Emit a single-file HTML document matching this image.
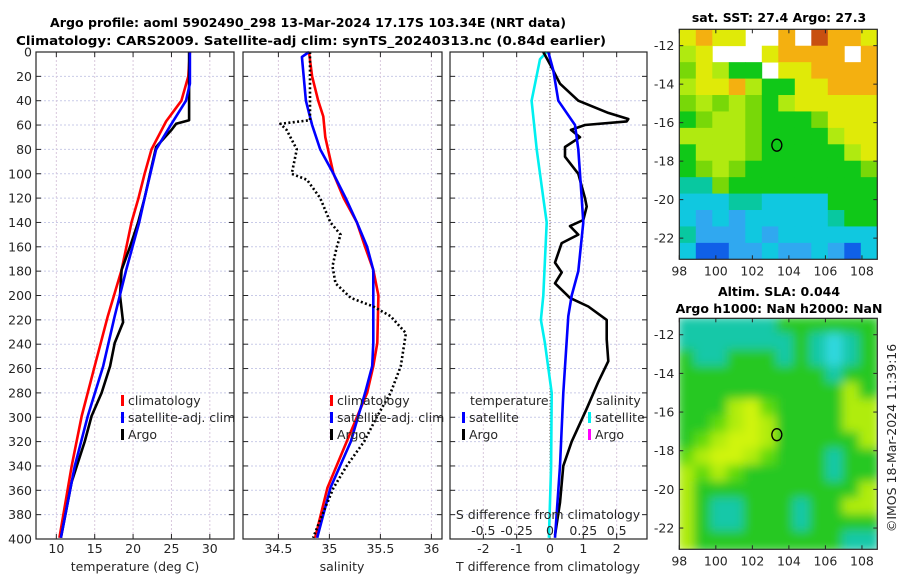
<!DOCTYPE html>
<html><head><meta charset="utf-8"><title>Argo profile</title>
<style>
html,body{margin:0;padding:0;background:#fff;}
svg{display:block;font-family:"DejaVu Sans","Liberation Sans",sans-serif;}
.tk{font-size:12.5px;fill:#262626;}
.tt{font-size:12.5px;font-weight:bold;fill:#000;}
</style></head>
<body>
<svg id="fig" width="900" height="580" viewBox="0 0 900 580" xmlns="http://www.w3.org/2000/svg">
<text class="tt" x="308" y="27" text-anchor="middle" textLength="516" lengthAdjust="spacingAndGlyphs">Argo profile: aoml 5902490_298 13-Mar-2024 17.17S 103.34E (NRT data)</text>
<text class="tt" x="311" y="45" text-anchor="middle" textLength="590" lengthAdjust="spacingAndGlyphs">Climatology: CARS2009. Satellite-adj clim: synTS_20240313.nc (0.84d earlier)</text>
<text class="tt" x="779" y="22" text-anchor="middle">sat. SST: 27.4 Argo: 27.3</text>
<text class="tt" x="779" y="296" text-anchor="middle">Altim. SLA: 0.044</text>
<text class="tt" x="779" y="313" text-anchor="middle">Argo h1000: NaN h2000: NaN</text>
<text class="tk" x="0" y="0" transform="translate(896,438) rotate(-90)" text-anchor="middle" font-size="13">©IMOS 18-Mar-2024 11:39:16</text>
</svg>
<script>
// ---- data ----
const depthTicks = [0,20,40,60,80,100,120,140,160,180,200,220,240,260,280,300,320,340,360,380,400];
const tempTicks = [10,15,20,25,30];
const salTicks = [34.5,35,35.5,36];
const tdiffTicks = [-2,-1,0,1,2];
const sdiffTicks = [-0.5,-0.25,0,0.25,0.5];
const sdiffTickLabels = ["-0.5","-0.25","0","0.25","0.5"];

const climTDepth = [0,20,40,57,80,100,120,140,179,217,258,299,340,399];
const climT = [27.4,27.2,26.3,24.3,22.4,21.5,20.7,19.8,18.5,16.7,15.0,13.3,12.0,10.4];
const satTDepth = [0,26,40,59,80,120,140,179,217,258,299,340,399];
const satT = [27.4,27.4,26.9,25.0,23.0,21.5,20.8,19.1,17.6,16.1,14.1,12.4,10.6];
const argoTDepth = [0,56,59,64,78,100,120,140,160,179,200,222,239,258,280,299,320,353,399];
const argoT = [27.3,27.3,25.6,25.0,23.0,22.2,21.5,20.65,19.6,18.5,18.3,18.7,17.6,17.0,15.9,14.6,13.7,12.0,10.6];

const climSDepth = [0,20,40,53,70,100,120,140,160,179,200,239,258,280,320,358,399];
const climS = [34.80,34.83,34.89,34.94,34.96,35.04,35.14,35.27,35.35,35.43,35.48,35.47,35.43,35.37,35.17,34.98,34.86];
const satSDepth = [0,4,40,60,80,100,120,140,160,179,200,222,239,258,280,320,358,399];
const satS = [34.80,34.73,34.77,34.83,34.91,35.04,35.16,35.27,35.37,35.43,35.43,35.43,35.43,35.42,35.35,35.21,35.01,34.88];
const argoSDepth = [0,40,56,59,64,80,100,105,120,140,150,161,176,190,202,209,217,231,258,280,299,320,340,358,380,399];
const argoS = [34.81,34.81,34.81,34.52,34.58,34.68,34.63,34.78,34.91,35.01,35.11,35.07,35.03,35.06,35.21,35.43,35.60,35.75,35.70,35.60,35.47,35.34,35.17,35.04,34.93,34.84];

const argoTdDepth = [0,10,26,40,50,55,57,60,64,70,78,86,100,120,127,138,143,150,157,173,181,190,202,209,220,236,254,271,293,320,340,370,397];
const argoTd = [-0.2,0,0.3,0.85,1.75,2.35,2.3,1.05,0.63,0.9,0.45,0.45,0.85,1.05,1.1,1.0,0.6,0.85,0.35,0.15,0.35,0.15,0.6,1.15,1.7,1.7,1.75,1.45,1.1,0.65,0.4,0.3,0.15];
const satTdDepth = [0,15,40,60,80,120,140,180,200,217,280,340,399];
const satTd = [-0.05,0.1,0.25,0.75,0.85,0.95,1.0,0.85,0.65,0.55,0.4,0.3,0.15];
const satSdDepth = [0,6,40,80,120,140,200,220,239,280,340,399];
const satSd = [-0.025,-0.075,-0.138,-0.1,-0.05,-0.025,-0.05,-0.068,-0.038,0.013,0.008,-0.008];

// SST map grid (rows north->south, 12 cols west->east); W = no data
const sstRows = [
"YOYYWWOWROOY",
"LYWWWYOOOOWO",
"gYLGGWYYOOOO",
"LYYOLGGYYOOO",
"gLgLgGLYYYYY",
"GgLLgGGGgYYY",
"LLLLgGGGGLYY",
"GLLLgGGGGGLY",
"GgLgGGGGGGGg",
"TTgGGGGGGGGG",
"CCCTTCCCCGGG",
"CbCbCCCCCTGG",
"TbbbCbCCCCCC",
"CBBbbCbbCbBC"];
const sstCodes = {B:25.3,b:25.7,C:26.0,T:26.3,G:26.7,g:27.0,L:27.2,Y:27.5,O:28.0,R:28.6};
// SLA map grid
const slaRows = [
"TTTTTTGGGGGG",
"TTTTTTTGTcTG",
"GTTGGGTGTcTG",
"GGGGGGGGGTGG",
"GGGGGGGGGGLG",
"GGGLYgGGGGLL",
"GGgLYLGGGGLL",
"GgLYYLGGGGGL",
"gLYYLgGGGTGG",
"LgLgGGGGGTGG",
"LGGGGGGGGGGL",
"LGTTGGGTGGLL",
"LGTTGGGTGGGG",
"LGGGGGGGGGTT"];
const slaCodes = {c:-0.1,T:-0.05,G:0.0,g:0.03,L:0.06,Y:0.1};
const mapLonTicks = [98,100,102,104,106,108];
const mapLatTicks = [-12,-14,-16,-18,-20,-22];
const argoLon = 103.34, argoLat = -17.17;

// ---- drawing ----
const NS="http://www.w3.org/2000/svg";
const svg=document.getElementById('fig');
function mk(tag,attrs,parent){const e=document.createElementNS(NS,tag);for(const k in attrs)e.setAttribute(k,attrs[k]);(parent||svg).appendChild(e);return e;}
const PY0=52, PY1=539;
const yD = d => PY0 + (d/400)*(PY1-PY0);
function lin(d0,d1,r0,r1){return v=>r0+(v-d0)/(d1-d0)*(r1-r0);}

const panels=[
 {name:'temperature-panel',x0:36,x1:234,dmin:7.35,dmax:33.15,ticks:tempTicks,labels:tempTicks.map(String),xlabel:'temperature (deg C)',xlc:135},
 {name:'salinity-panel',x0:243,x1:442,dmin:34.153,dmax:36.104,ticks:salTicks,labels:salTicks.map(String),xlabel:'salinity',xlc:342},
 {name:'difference-panel',x0:450,x1:647,dmin:-3.0,dmax:2.91,ticks:tdiffTicks,labels:tdiffTicks.map(String),xlabel:'T difference from climatology',xlc:548}
];
panels.forEach(p=>{p.sx=lin(p.dmin,p.dmax,p.x0,p.x1);});

function drawFrame(p,ylabels){
  const g=mk('g',{});
  
  
  mk('rect',{x:p.x0,y:PY0,width:p.x1-p.x0,height:PY1-PY0,fill:'#fff'},g);
  depthTicks.forEach(d=>{
    const y=yD(d);
    const l=mk('line',{x1:p.x0,x2:p.x1,y1:y,y2:y,stroke:'#c9cbe8','stroke-width':1,'stroke-dasharray':'2,2'},g);
    
    
    mk('line',{x1:p.x0,x2:p.x0+5,y1:y,y2:y,stroke:'#262626'},g);
    mk('line',{x1:p.x1-5,x2:p.x1,y1:y,y2:y,stroke:'#262626'},g);
    if(ylabels){
      const t=mk('text',{x:p.x0-4,y:y+4.5,'text-anchor':'end',class:'tk'},g);
      t.textContent=String(d);
      
      
    }
  });
  p.ticks.forEach((v,i)=>{
    const x=p.sx(v);
    mk('line',{x1:x,x2:x,y1:PY0,y2:PY1,stroke:'#d9c8dc','stroke-width':1,'stroke-dasharray':'2,2'},g);
    mk('line',{x1:x,x2:x,y1:PY1-5,y2:PY1,stroke:'#262626'},g);
    mk('line',{x1:x,x2:x,y1:PY0,y2:PY0+5,stroke:'#262626'},g);
    const t=mk('text',{x:x,y:553,'text-anchor':'middle',class:'tk'},g);
    t.textContent=p.labels[i];
    
    
  });
  const xl=mk('text',{x:p.xlc,y:571,'text-anchor':'middle',class:'tk'},g);
  xl.textContent=p.xlabel;
  
  
  return g;
}
function drawLine(p,depths,vals,color,name,dash,scale){
  const pts=depths.map((d,i)=>p.sx(vals[i]*(scale||1)).toFixed(1)+','+yD(d).toFixed(1)).join(' ');
  const a={points:pts,fill:'none',stroke:color,'stroke-width':2.6,'stroke-linejoin':'round'};
  if(dash)a['stroke-dasharray']=dash;
  const l=mk('polyline',a);
  
  
  return l;
}
function frameBorder(p){
  mk('rect',{x:p.x0,y:PY0,width:p.x1-p.x0,height:PY1-PY0,fill:'none',stroke:'#262626','stroke-width':1.2});
}
function legendEntry(x,y,color,label,name){
  const g=mk('g',{});
  
  
  if(color) mk('rect',{x:x,y:y-10,width:3,height:11,fill:color},g);
  const t=mk('text',{x:x+(color?7:0),y:y,class:'tk'},g);
  t.textContent=label;
}

// panel 1
drawFrame(panels[0],true);
drawLine(panels[0],climTDepth,climT,'#ff0000','climatology-temperature-line');
drawLine(panels[0],argoTDepth,argoT,'#000000','argo-temperature-line');
drawLine(panels[0],satTDepth,satT,'#0000ff','satellite-temperature-line');
// panel 2
drawFrame(panels[1],false);
drawLine(panels[1],climSDepth,climS,'#ff0000','climatology-salinity-line');
drawLine(panels[1],satSDepth,satS,'#0000ff','satellite-salinity-line');
drawLine(panels[1],argoSDepth,argoS,'#000000','argo-salinity-line','2,2.4');
// panel 3
drawFrame(panels[2],false);
const zx=panels[2].sx(0);
mk('line',{x1:zx,x2:zx,y1:PY0,y2:PY1,stroke:'#6b5a4a','stroke-width':1,'stroke-dasharray':'1,2'});
drawLine(panels[2],satSdDepth,satSd,'#00f0f0','satellite-salinity-difference-line',null,4);
drawLine(panels[2],argoTdDepth,argoTd,'#000000','argo-temperature-difference-line');
drawLine(panels[2],satTdDepth,satTd,'#0000ff','satellite-temperature-difference-line');
// S axis inside panel 3
{
  const t=mk('text',{x:548,y:519,'text-anchor':'middle',class:'tk'});
  t.textContent='S difference from climatology';
  
  
  sdiffTicks.forEach((v,i)=>{
    const lt=mk('text',{x:panels[2].sx(v*4),y:535,'text-anchor':'middle',class:'tk'});
    lt.textContent=sdiffTickLabels[i];
    
    
  });
}
panels.forEach(frameBorder);

// legends
legendEntry(121,405,'#ff0000','climatology','legend-climatology');
legendEntry(121,422,'#0000ff','satellite-adj. clim','legend-satellite-adj');
legendEntry(121,439,'#000000','Argo','legend-argo');
legendEntry(330,405,'#ff0000','climatology','legend-climatology-sal');
legendEntry(330,422,'#0000ff','satellite-adj. clim','legend-satellite-adj-sal');
legendEntry(330,439,'#000000','Argo','legend-argo-sal');
legendEntry(470,405,null,'temperature','legend-temperature-header');
legendEntry(462,422,'#0000ff','satellite','legend-temperature-satellite');
legendEntry(462,439,'#000000','Argo','legend-temperature-argo');
legendEntry(596,405,null,'salinity','legend-salinity-header');
legendEntry(588,422,'#00f0f0','satellite','legend-salinity-satellite');
legendEntry(588,439,'#ff00ff','Argo','legend-salinity-argo');

// maps
const MX0=679.3, MX1=877.3, LON0=98, LON1=108.84;
const LAT0=-11.15, LAT1=-23.1;
const sstColors={B:'#1060e8',b:'#30a8f0',C:'#10c8e0',T:'#08c8a0',G:'#10c818',g:'#78d808',L:'#b0ea10',Y:'#e0ea08',O:'#f4b010',R:'#c85010'};
const slaColors={c:'#30d8e0',T:'#18c8a8',G:'#28c820',g:'#60da10',L:'#b0ec10',Y:'#d0f410'};
function colorFor(v,codes,colors){let best=null,bd=1e9;for(const k in codes){const d=Math.abs(codes[k]-v);if(d<bd){bd=d;best=k;}}return colors[best];}
function drawMap(name,my0,my1,rows,codes,colors,smooth){
  const sx=lin(LON0,LON1,MX0,MX1), sy=lin(LAT0,LAT1,my0,my1);
  const g=mk('g',{});
  
  
  const clipId=name+'-clip';
  const cp=mk('clipPath',{id:clipId},g);
  mk('rect',{x:MX0,y:my0,width:MX1-MX0,height:my1-my0},cp);
  const cells=mk('g',{'clip-path':'url(#'+clipId+')'},g);
  const inner=mk('g',smooth?{filter:'url(#blur)'}:{},cells);
  const nr=rows.length,nc=rows[0].length;
  const dLon=(LON1-LON0)/nc, dLat=(LAT1-LAT0)/nr;
  rows.forEach((row,r)=>{
    for(let c=0;c<nc;c++){
      const ch=row[c];
      if(ch==='W')continue;
      const v=codes[ch];
      const x=sx(LON0+c*dLon), y=sy(LAT0+r*dLat);
      const pad=smooth?2:0;
      const rc=mk('rect',{x:x-pad,y:y-pad,width:sx(LON0+(c+1)*dLon)-x+0.4+2*pad,height:sy(LAT0+(r+1)*dLat)-y+0.4+2*pad,fill:colorFor(v,codes,colors)},inner);
      
      
    }
  });
  mk('rect',{x:MX0,y:my0,width:MX1-MX0,height:my1-my0,fill:'none',stroke:'#262626','stroke-width':1.2},g);
  mapLatTicks.forEach(v=>{
    const y=sy(v);
    mk('line',{x1:MX0,x2:MX0+4,y1:y,y2:y,stroke:'#262626'},g);
    mk('line',{x1:MX1-4,x2:MX1,y1:y,y2:y,stroke:'#262626'},g);
    const t=mk('text',{x:MX0-5,y:y+4.5,'text-anchor':'end',class:'tk'},g);
    t.textContent=String(v);
    
    
  });
  mapLonTicks.forEach(v=>{
    const x=sx(v);
    mk('line',{x1:x,x2:x,y1:my1-4,y2:my1,stroke:'#262626'},g);
    mk('line',{x1:x,x2:x,y1:my0,y2:my0+4,stroke:'#262626'},g);
    const t=mk('text',{x:x,y:my1+16,'text-anchor':'middle',class:'tk'},g);
    t.textContent=String(v);
    
    
  });
  const m=mk('ellipse',{cx:sx(argoLon),cy:sy(argoLat),rx:5,ry:6,fill:'none',stroke:'#000','stroke-width':1.3},g);
  
  
}
const defs=mk('defs',{});
const f=mk('filter',{id:'blur',x:'-5%',y:'-5%',width:'110%',height:'110%'},defs);
mk('feGaussianBlur',{stdDeviation:'5'},f);
drawMap('sst-map',29.3,259.3,sstRows,sstCodes,sstColors,false);
drawMap('sla-map',318.3,549.3,slaRows,slaCodes,slaColors,true);
</script>
</body></html>
